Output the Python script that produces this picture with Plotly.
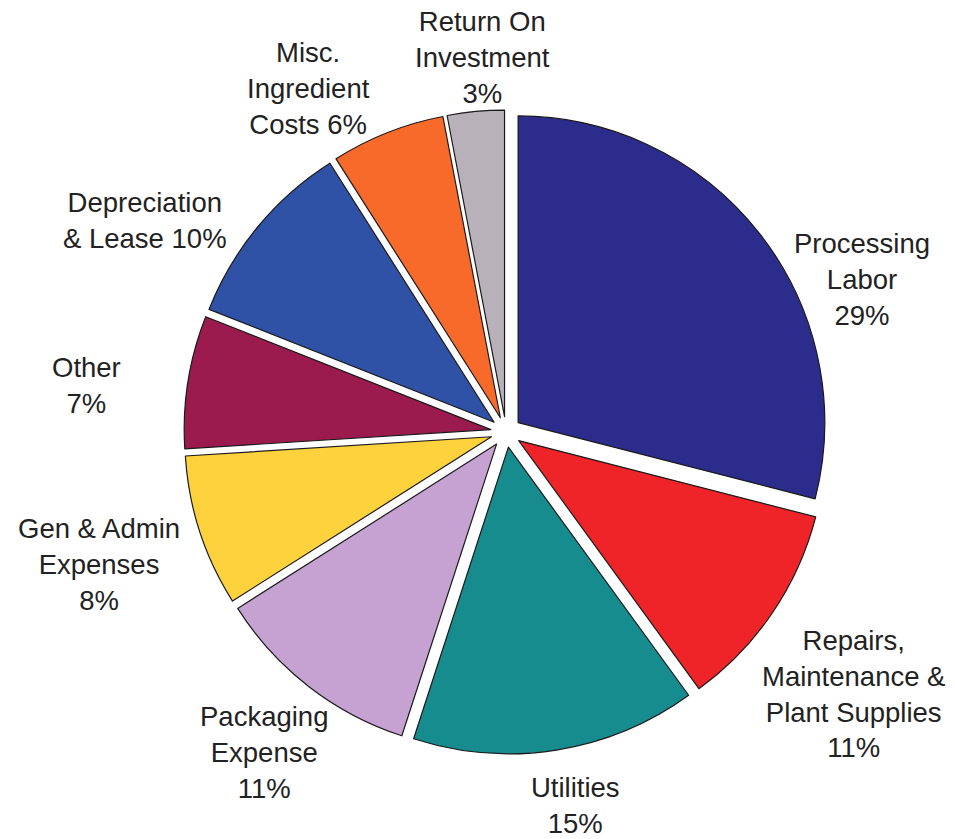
import plotly.graph_objects as go

# Cost breakdown, clockwise from 12 o'clock
categories = [
    "Processing Labor",
    "Repairs, Maintenance & Plant Supplies",
    "Utilities",
    "Packaging Expense",
    "Gen & Admin Expenses",
    "Other",
    "Depreciation & Lease",
    "Misc. Ingredient Costs",
    "Return On Investment",
]
shares = [29, 11, 15, 11, 8, 7, 10, 6, 3]
label_text = [
    "Processing<br>Labor<br>{}%",
    "Repairs,<br>Maintenance &<br>Plant Supplies<br>{}%",
    "Utilities<br>{}%",
    "Packaging<br>Expense<br>{}%",
    "Gen & Admin<br>Expenses<br>{}%",
    "Other<br>{}%",
    "Depreciation<br>& Lease {}%",
    "Misc.<br>Ingredient<br>Costs {}%",
    "Return On<br>Investment<br>{}%",
]
colors = [
    "#2B2C8C", "#EE2429", "#168C8E", "#C6A2D2", "#FDD23C",
    "#9C1B4F", "#2F52A6", "#F86A2A", "#B8B1BA",
]

# label block centres in pixels
label_pos = [
    (862, 280), (853, 694), (575, 805), (264, 752), (99, 564),
    (86, 385), (145, 220), (308, 88), (482, 58),
]

W, H = 955, 839
cx, cy, half = 506, 432, 322

fig = go.Figure(
    go.Pie(
        labels=categories,
        values=shares,
        textinfo="none",
        sort=False,
        direction="clockwise",
        rotation=0,
        pull=[0.05] * len(shares),
        marker=dict(colors=colors, line=dict(color="#1a1a1a", width=1.2)),
        domain=dict(
            x=[(cx - half) / W, (cx + half) / W],
            y=[1 - (cy + half) / H, 1 - (cy - half) / H],
        ),
        showlegend=False,
        hoverinfo="label+percent",
    )
)

for tmpl, v, (px, py) in zip(label_text, shares, label_pos):
    fig.add_annotation(
        x=px / W,
        y=1 - py / H,
        xref="paper",
        yref="paper",
        text=tmpl.format(v),
        showarrow=False,
        xanchor="center",
        yanchor="middle",
        align="center",
        font=dict(family="Liberation Sans, Arial, sans-serif", size=27.5, color="#222222"),
    )

fig.update_layout(
    width=W,
    height=H,
    margin=dict(l=0, r=0, t=0, b=0),
    paper_bgcolor="white",
    plot_bgcolor="white",
    showlegend=False,
)

fig.write_html("out.html")
